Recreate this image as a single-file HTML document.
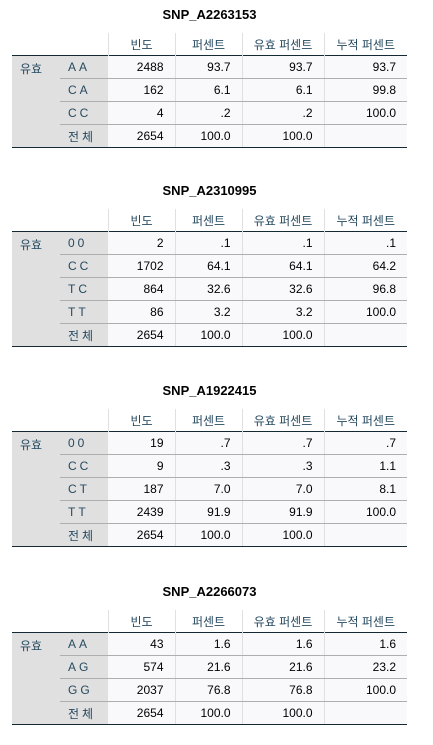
<!DOCTYPE html>
<html><head><meta charset="utf-8"><style>
body{margin:0;width:433px;height:745px;background:#fff;position:relative;font-family:"Liberation Sans","Noto Sans CJK KR",sans-serif;overflow:hidden}
.blk{position:absolute;left:12px;width:395px}
.title{position:absolute;left:0;width:395px;text-align:center;font-weight:bold;font-size:13px;color:#000;top:0;height:20px;line-height:20px}
table{position:absolute;top:28px;left:0;border-collapse:collapse;font-size:12px;table-layout:fixed;width:395px}
td{height:22px;padding:0 4px;white-space:nowrap}
thead td{color:#264a60;text-align:center;border-right:1px solid #e0e0e0;height:22px}
thead td:last-child,thead td:first-child{border-right:none}
thead tr{border-bottom:1px solid #152935}
tbody td.g{background:#e0e0e0;color:#264a60;text-align:left;padding-left:8px}
tbody td.l{background:#e0e0e0;color:#264a60;letter-spacing:3px;padding-left:8px}
tbody td.n{background:#f9f9fb;text-align:right;padding-right:11px;border-right:1px solid #e0e0e0;color:#000}
tbody td.n:last-child{border-right:none}
tbody tr td.l,tbody tr td.n{border-bottom:1px solid #aeaeae}
tbody tr:last-child td{border-bottom:1px solid #152935}
</style></head><body>
<div id="root"></div>
<script>
const tables=[
 {name:"SNP_A2263153",top:5,rows:[["AA","2488","93.7","93.7","93.7"],["CA","162","6.1","6.1","99.8"],["CC","4",".2",".2","100.0"],["전체","2654","100.0","100.0",""]]},
 {name:"SNP_A2310995",top:181,rows:[["00","2",".1",".1",".1"],["CC","1702","64.1","64.1","64.2"],["TC","864","32.6","32.6","96.8"],["TT","86","3.2","3.2","100.0"],["전체","2654","100.0","100.0",""]]},
 {name:"SNP_A1922415",top:381,rows:[["00","19",".7",".7",".7"],["CC","9",".3",".3","1.1"],["CT","187","7.0","7.0","8.1"],["TT","2439","91.9","91.9","100.0"],["전체","2654","100.0","100.0",""]]},
 {name:"SNP_A2266073",top:582,rows:[["AA","43","1.6","1.6","1.6"],["AG","574","21.6","21.6","23.2"],["GG","2037","76.8","76.8","100.0"],["전체","2654","100.0","100.0",""]]}
];
const root=document.getElementById('root');
tables.forEach((t,ti)=>{
 const d=document.createElement('div');d.className='blk';d.style.top=t.top+'px';
 
 
 let h=`<div class="title">${t.name}</div><table><colgroup><col style="width:48px"><col style="width:48px"><col style="width:67px"><col style="width:67px"><col style="width:82px"><col style="width:83px"></colgroup><thead><tr><td></td><td></td><td>빈도</td><td>퍼센트</td><td>유효 퍼센트</td><td>누적 퍼센트</td></tr></thead><tbody>`;
 t.rows.forEach((r,i)=>{
  h+=`<tr>`;
  if(i===0)h+=`<td class="g" rowspan="${t.rows.length}" style="vertical-align:top;padding-top:4px;border-bottom:1px solid #152935">유효</td>`;
  h+=`<td class="l">${r[0]}</td>`+r.slice(1).map(v=>`<td class="n">${v}</td>`).join('')+`</tr>`;
 });
 h+='</tbody></table>';
 d.innerHTML=h;root.appendChild(d);
});
</script>
</body></html>
